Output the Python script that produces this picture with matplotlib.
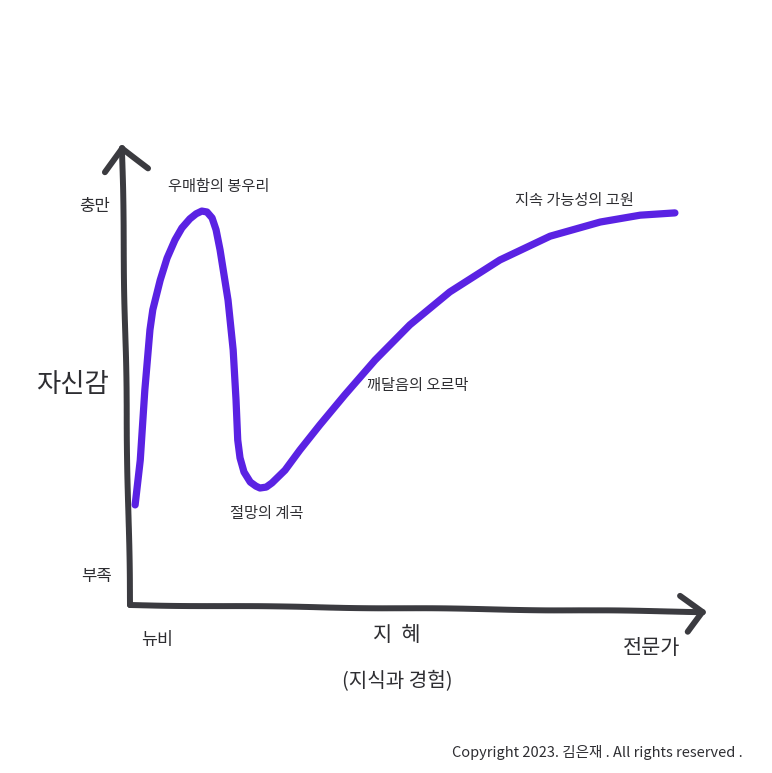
import matplotlib.pyplot as plt

plt.rcParams["font.family"] = ["Noto Sans CJK KR", "DejaVu Sans"]

# 지혜(x) vs 자신감(y), 0~100 scale
wisdom = [0.9, 1.8, 2.6, 3.5, 4.0, 5.3, 6.5, 7.9, 9.1, 10.5, 11.6, 12.6, 13.5, 14.4,
          15.1, 15.8, 17.2, 18.1, 18.6, 18.9, 19.3, 20.0, 21.1, 22.1, 22.8, 23.9,
          24.9, 27.2, 29.8, 33.3, 37.7, 43.0, 49.1, 56.1, 64.9, 73.7, 82.5, 89.5, 95.6]
confidence = [21.9, 31.7, 47.0, 60.2, 64.6, 71.1, 75.9, 79.9, 82.5, 84.5, 85.6, 86.2,
              86.0, 84.7, 82.1, 77.7, 66.7, 55.8, 44.9, 36.1, 32.2, 29.1, 26.9, 26.0,
              25.6, 25.8, 26.7, 29.5, 33.9, 39.4, 46.0, 53.6, 61.3, 68.5, 75.5, 80.7,
              83.8, 85.3, 85.8]

stage_labels = ["우매함의 봉우리", "절망의 계곡", "깨달음의 오르막", "지속 가능성의 고원"]
stage_pos = [(15.5, 91.5), (24.0, 20.0), (50.5, 48.0), (78.0, 88.5)]

AXIS = "#3b3b40"
CURVE = "#5a22e3"
TEXT = "#2e2e32"

W, H = 772, 773
fig = plt.figure(figsize=(W / 100, H / 100), dpi=100)
fig.patch.set_facecolor("white")
ax = fig.add_axes([130 / W, 1 - 605 / H, 570 / W, 457 / H])
ax.set_xlim(0, 100)
ax.set_ylim(0, 100)
ax.axis("off")

# axes drawn by hand
for xs, ys in [([0, -1.4], [0, 100]), ([0, 100.5], [0, -1.5]),
               ([-4.4, -1.4, 3.2], [94.7, 100, 95.6]),
               ([96.5, 100.5, 97.9], [2.0, -1.5, -5.9])]:
    l, = ax.plot(xs, ys, color=AXIS, lw=4.3, solid_capstyle="round",
                 solid_joinstyle="round", clip_on=False)
    l.set_sketch_params(scale=0.4, length=200, randomness=2)

ax.plot(wisdom, confidence, color=CURVE, lw=5.2, solid_capstyle="round",
        solid_joinstyle="round", clip_on=False)

for txt, (x, y) in zip(stage_labels, stage_pos):
    ax.text(x, y, txt, fontsize=11, color=TEXT, ha="center", va="center")


def ftext(px, py, s, size, **kw):
    fig.text(px / W, 1 - py / H, s, fontsize=size, color=TEXT,
             ha="center", va="center", **kw)


ftext(95, 207, "충만", 12)
ftext(72, 385, "자신감", 19)
ftext(97, 577, "부족", 12)
ftext(157, 640, "뉴비", 12.5)
ftext(397, 635, "지  혜", 15)
ftext(397, 682, "(지식과 경험)", 14.5)
ftext(652, 648, "전문가", 15)
ftext(597, 752, "Copyright 2023. 김은재 . All rights reserved .", 10.5)

fig.savefig("out.png", dpi=100, facecolor="white")
